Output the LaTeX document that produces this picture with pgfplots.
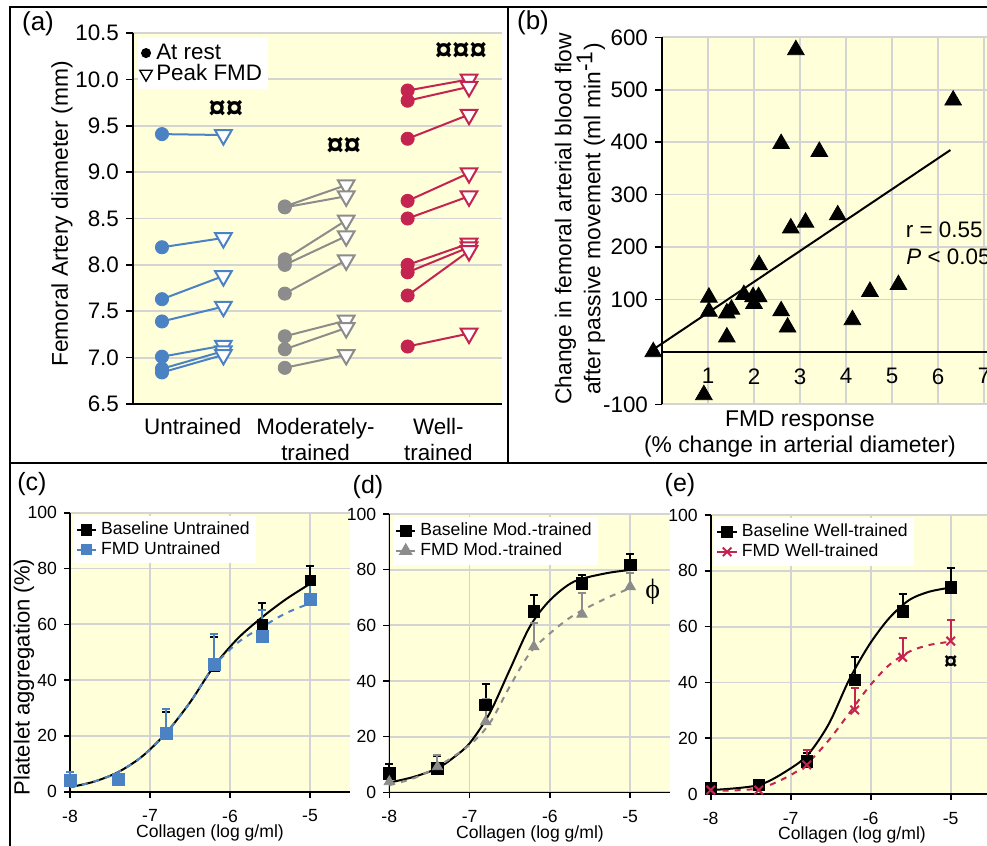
\documentclass[border=0pt]{standalone}
\usepackage{pgfplots}
\pgfplotsset{compat=1.18}
\usepackage{fontspec}
\setmainfont{Liberation Sans}
\newfontfamily\serifgr{Liberation Serif}

\definecolor{bgy}{HTML}{FFFFD9}
\definecolor{gridc}{HTML}{D4D4D4}
\definecolor{ublue}{HTML}{4A82C4}
\definecolor{mgray}{HTML}{8C8C8C}
\definecolor{wred}{HTML}{C42450}

\newcommand{\fa}{\fontsize{11.2}{13.3}\selectfont}
\newcommand{\fb}{\fontsize{8.8}{10.5}\selectfont}

\pgfplotsset{
  noarrows/.style={
    every outer x axis line/.append style={-},
    every outer y axis line/.append style={-},
    every inner x axis line/.append style={-},
    every inner y axis line/.append style={-}},
  panel/.style={scale only axis, clip=false, anchor=south west,
    axis background/.style={fill=bgy},
    axis x line=bottom, axis y line=left,
    axis line style={-, line width=1pt, black},
    noarrows,
    tick align=outside, major tick length=3.5pt,
    tick style={black, line width=0.8pt},
    grid style={gridc, line width=0.9pt},
    /pgf/number format/assume math mode=true},
  lower/.style={panel, xmin=-8, xmax=-4.5, ymin=0, ymax=100,
    xtick={-8,-7,-6,-5}, xticklabels={-8,-7,-6,-5},
    ytick={0,20,...,100}, grid=major,
    tick label style={font=\fb},
    xticklabel style={yshift=-2.5pt},
    axis line style={line width=0.8pt},
    major tick length=3pt,
    legend style={at={(0.012,0.99)}, anchor=north west, draw=none, fill=white,
      font=\fb, inner sep=1pt, row sep=-2pt, cells={anchor=west}},
    legend image code/.code={\draw[mark repeat=2,mark phase=2,##1]
      plot coordinates {(0cm,0cm)(0.17cm,0cm)(0.34cm,0cm)};}},
  ebar/.style={only marks,
    error bars/y dir=plus, error bars/y explicit,
    error bars/error bar style={line width=1pt},
    error bars/error mark options={rotate=90, mark size=2pt, line width=1pt}},
}

\begin{document}
\begin{tikzpicture}

% ---------------- (a)
\begin{axis}[panel, at={(66.5pt,-202pt)}, width=184.5pt, height=185.5pt,
  xmin=0.528, xmax=6.537, ymin=6.5, ymax=10.5,
  ytick={6.5,7,...,10.5}, yticklabels={6.5,7.0,7.5,8.0,8.5,9.0,9.5,10.0,10.5},
  xtick={1.5,3.5,5.5}, xticklabels={Untrained,{Moderately-\\trained},{Well-\\trained}},
  xticklabel style={align=center, font=\fa}, yticklabel style={font=\fa},
  major x tick style={draw=none}, ymajorgrids,
  legend style={at={(0.012,0.988)}, anchor=north west, draw=none, fill=white,
    font=\fa, inner sep=1pt, row sep=-3pt, cells={anchor=west}},
]
\addlegendimage{only marks, mark=*, mark size=2.3pt, black}
\addlegendentry{At rest}
\addlegendimage{only marks, mark=triangle, mark options={rotate=180}, mark size=3.6pt, black, line width=0.7pt}
\addlegendentry{Peak FMD}

% untrained
\addplot[ublue, line width=1pt, unbounded coords=jump, forget plot] coordinates {
(1,9.41)(2,9.40) (1,nan) (1,8.19)(2,8.29) (1,nan) (1,7.63)(2,7.88) (1,nan)
(1,7.39)(2,7.55) (1,nan) (1,7.01)(2,7.13) (1,nan) (1,6.88)(2,7.07) (1,nan)
(1,6.84)(2,7.03)};
\addplot[ublue, only marks, mark=*, mark size=3.3pt, forget plot] coordinates {
(1,9.41)(1,8.19)(1,7.63)(1,7.39)(1,7.01)(1,6.88)(1,6.84)};
\addplot[ublue, only marks, mark=triangle*, mark size=4.8pt, line width=1pt,
  mark options={rotate=180, fill=white}, forget plot] coordinates {
(2,9.40)(2,8.29)(2,7.88)(2,7.55)(2,7.13)(2,7.07)(2,7.03)};

% moderately trained
\addplot[mgray, line width=1pt, unbounded coords=jump, forget plot] coordinates {
(3,8.63)(4,8.86) (3,nan) (3,8.62)(4,8.74) (3,nan) (3,8.06)(4,8.48) (3,nan)
(3,8.00)(4,8.31) (3,nan) (3,7.69)(4,8.05) (3,nan) (3,7.23)(4,7.40) (3,nan)
(3,7.09)(4,7.32) (3,nan) (3,6.89)(4,7.03)};
\addplot[mgray, only marks, mark=*, mark size=3.3pt, forget plot] coordinates {
(3,8.63)(3,8.62)(3,8.06)(3,8.00)(3,7.69)(3,7.23)(3,7.09)(3,6.89)};
\addplot[mgray, only marks, mark=triangle*, mark size=4.8pt, line width=1pt,
  mark options={rotate=180, fill=white}, forget plot] coordinates {
(4,8.86)(4,8.74)(4,8.48)(4,8.31)(4,8.05)(4,7.40)(4,7.32)(4,7.03)};

% well trained
\addplot[wred, line width=1pt, unbounded coords=jump, forget plot] coordinates {
(5,9.88)(6,10.00) (5,nan) (5,9.77)(6,9.92) (5,nan) (5,9.36)(6,9.62) (5,nan)
(5,8.69)(6,8.99) (5,nan) (5,8.50)(6,8.74) (5,nan) (5,8.00)(6,8.23) (5,nan)
(5,7.92)(6,8.19) (5,nan) (5,7.67)(6,8.15) (5,nan) (5,7.12)(6,7.26)};
\addplot[wred, only marks, mark=*, mark size=3.3pt, forget plot] coordinates {
(5,9.88)(5,9.77)(5,9.36)(5,8.69)(5,8.50)(5,8.00)(5,7.92)(5,7.67)(5,7.12)};
\addplot[wred, only marks, mark=triangle*, mark size=4.8pt, line width=1pt,
  mark options={rotate=180, fill=white}, forget plot] coordinates {
(6,10.00)(6,9.92)(6,9.62)(6,8.99)(6,8.74)(6,8.23)(6,8.19)(6,8.15)(6,7.26)};

\node[font=\bfseries\fontsize{15.5}{15.5}\selectfont] at (axis cs:2.04,9.68) {¤¤};
\node[font=\bfseries\fontsize{15.5}{15.5}\selectfont] at (axis cs:3.96,9.28) {¤¤};
\node[font=\bfseries\fontsize{15.5}{15.5}\selectfont] at (axis cs:5.87,10.30) {¤¤¤};
\end{axis}

% ---------------- (b)
\begin{axis}[panel, at={(331pt,-202.15pt)}, width=167.9pt, height=183.5pt,
  xmin=0, xmax=7.3, ymin=-100, ymax=600,
  axis x line=middle, noarrows,
  xtick={1,...,7}, ytick={-100,100,200,...,600},
  yticklabels={-100,100,200,300,400,500,600},
  xmajorgrids, ymajorgrids, major x tick style={draw=none},
  xticklabel style={font=\fa, yshift=-3pt}, yticklabel style={font=\fa},
]
\addplot[black, line width=1pt] coordinates {(-0.15,7)(6.27,385)};
\addplot[black, only marks, mark=triangle*, mark size=4.8pt] coordinates {
(2.91,576)(6.33,480)(2.59,397)(3.42,382)(3.82,261)(3.12,247)(2.80,236)
(2.11,166)(5.14,128)(4.52,115)(1.78,109)(1.02,104)(1.98,105)(2.10,105)
(2.00,92)(1.02,77)(1.41,74)(1.51,81)(2.59,78)(2.73,47)(1.41,28)
(4.14,61)(0.91,-82)(-0.19,0)};
\node[font=\fa, anchor=west] at (axis cs:5.15,232) {r = 0.55};
\node[font=\fa, anchor=west] at (axis cs:5.16,181) {\textit{P} < 0.05};
\end{axis}

% ---------------- (c)
\begin{axis}[lower, at={(35pt,-395.85pt)}, width=140pt, height=139.5pt]
\addlegendimage{black, mark=square*, mark size=2.4pt, line width=1pt}
\addlegendentry{Baseline Untrained}
\addlegendimage{ublue, mark=square*, mark size=2.4pt, line width=1pt}
\addlegendentry{FMD Untrained}
\addplot[black, line width=1pt, smooth, forget plot] coordinates {
(-8,1.6)(-7.7,3.6)(-7.4,7)(-7.1,12.6)(-6.8,21)(-6.5,32)(-6.2,45)
(-5.9,55)(-5.6,62.5)(-5.3,69)(-5,74.5)};
\addplot[ublue, line width=1pt, dashed, smooth, forget plot] coordinates {
(-8,1.6)(-7.7,3.6)(-7.4,7)(-7.1,12.6)(-6.8,21)(-6.5,32)(-6.2,45)
(-5.9,53.5)(-5.6,59)(-5.3,64)(-5,67.5)};
\addplot[black, mark=square*, mark size=2.5pt, ebar, forget plot]
  table[x=x, y=y, y error plus=e] {
x y e
-8 4 3
-7.4 4.4 1.5
-6.8 21 7.4
-6.2 45 10.5
-5.6 60 7.7
-5 75.6 5.4
};
\addplot[ublue, mark=square*, mark size=3pt, ebar, forget plot]
  table[x=x, y=y, y error plus=e] {
x y e
-8 4 3.2
-7.4 4.5 1.5
-6.8 21 8.5
-6.2 45.5 11.2
-5.6 55.5 9.8
-5 69 8.4
};
\end{axis}

% ---------------- (d)
\begin{axis}[lower, at={(194.65pt,-396.15pt)}, width=140.5pt, height=139.15pt]
\addlegendimage{black, mark=square*, mark size=2.6pt, line width=1pt}
\addlegendentry{Baseline Mod.-trained}
\addlegendimage{mgray, mark=triangle*, mark size=3pt, line width=1pt}
\addlegendentry{FMD Mod.-trained}
\addplot[black, line width=1pt, smooth, forget plot] coordinates {
(-8,3.5)(-7.7,5.5)(-7.4,8.6)(-7.2,12.5)(-7,17.6)(-6.75,28.4)(-6.5,44)
(-6.25,59.5)(-6,69)(-5.7,75.7)(-5.3,78.7)(-5,79.9)};
\addplot[mgray, line width=1pt, dashed, smooth, forget plot] coordinates {
(-8,2.6)(-7.7,5)(-7.4,9.2)(-7,17)(-6.75,24.8)(-6.5,38)(-6.25,50)
(-6,57.1)(-5.7,63.7)(-5.3,69.7)(-5,73.3)};
\addplot[black, mark=square*, mark size=2.9pt, ebar, forget plot]
  table[x=x, y=y, y error plus=e] {
x y e
-8 6.8 3.4
-7.4 8.6 4.4
-6.8 31.4 7.6
-6.2 64.9 6.1
-5.6 75.1 2.9
-5 81.7 3.8
};
\addplot[mgray, mark=triangle*, mark size=3pt, ebar, forget plot]
  table[x=x, y=y, y error plus=e] {
x y e
-8 3.8 1.5
-7.4 9.2 4.2
-6.8 25.4 8
-6.2 52.3 8.4
-5.6 64 7.7
-5 73.9 4.8
};
\node[font=\serifgr\fontsize{14}{14}\selectfont] at (axis cs:-4.72,72) {ϕ};
\end{axis}

% ---------------- (e)
\begin{axis}[lower, at={(355.35pt,-397pt)}, width=140pt, height=139.5pt]
\addlegendimage{black, mark=square*, mark size=2.6pt, line width=1pt}
\addlegendentry{Baseline Well-trained}
\addlegendimage{wred, mark=x, mark size=3pt, line width=1pt}
\addlegendentry{FMD Well-trained}
\addplot[black, line width=1pt, smooth, forget plot] coordinates {
(-8,1.4)(-7.4,3.2)(-7,9.2)(-6.77,14.6)(-6.52,25.3)(-6.27,40.9)(-6.02,53.4)
(-5.77,63)(-5.52,69.5)(-5.27,72.5)(-5,74)};
\addplot[wred, line width=1pt, dashed, smooth, forget plot] coordinates {
(-8,1.1)(-7.4,2)(-7,6.8)(-6.77,11.6)(-6.52,19.4)(-6.27,28.9)(-6.02,38.5)
(-5.77,46.2)(-5.52,51)(-5.27,53.4)(-5,54.6)};
\addplot[black, mark=square*, mark size=2.9pt, ebar, forget plot]
  table[x=x, y=y, y error plus=e] {
x y e
-8 2 1
-7.4 3.2 1
-6.8 11.6 3
-6.2 40.9 8.1
-5.6 65.4 6.2
-5 74 6.9
};
\addplot[wred, mark=x, mark size=3pt, line width=1pt, ebar, forget plot]
  table[x=x, y=y, y error plus=e] {
x y e
-8 1.4 0.8
-7.4 1.4 0.8
-6.8 10.4 5.4
-6.2 30.1 7.8
-5.6 49 6.8
-5 54.8 7.6
};
\node[font=\bfseries\fontsize{12}{12}\selectfont] at (axis cs:-5,47) {¤};
\end{axis}

% ---------------- frame and labels (pixel coordinates)
\begin{scope}[x=0.5pt,y=-0.5pt]
\draw[line width=1pt] (10,900) -- (10,7) -- (1000,7);
\draw[line width=1pt] (10,463) -- (1000,463);
\draw[line width=1pt] (508,7) -- (508,463);

\node[font=\fontsize{13}{13}\selectfont] at (38,24) {(a)};
\node[font=\fontsize{13}{13}\selectfont] at (533,23) {(b)};
\node[font=\fontsize{12.5}{12.5}\selectfont] at (32,484) {(c)};
\node[font=\fontsize{12.5}{12.5}\selectfont] at (368,487) {(d)};
\node[font=\fontsize{12.5}{12.5}\selectfont] at (680,485) {(e)};

\node[font=\fontsize{11.4}{13}\selectfont, rotate=90] at (62,214) {Femoral Artery diameter (mm)};
\node[font=\fontsize{11.4}{14.5}\selectfont, rotate=90, align=center] at (580,219)
  {Change in femoral arterial blood flow\\after passive movement (ml min$^{\textrm{-1}}$)};
\node[font=\fontsize{11.4}{13}\selectfont, align=center] at (800,434)
  {FMD response\\(\% change in arterial diameter)};
\node[font=\fontsize{11}{12}\selectfont, rotate=90] at (24,677) {Platelet aggregation (\%)};
\node[font=\fb] at (210,833) {Collagen (log g/ml)};
\node[font=\fb] at (530,834) {Collagen (log g/ml)};
\node[font=\fb] at (852,835) {Collagen (log g/ml)};

\pgfresetboundingbox
\useasboundingbox (0,0) rectangle (987,846);
\end{scope}
\end{tikzpicture}
\end{document}
